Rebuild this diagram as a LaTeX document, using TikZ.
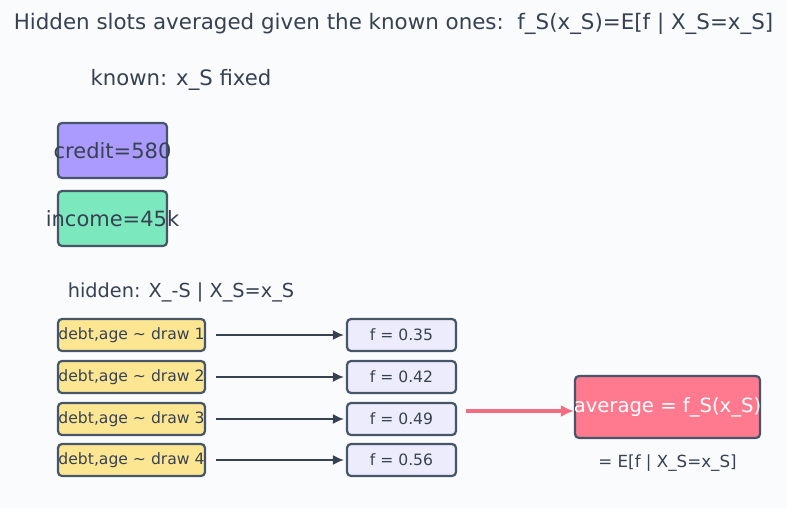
\documentclass[tikz,border=0pt]{standalone}
\usepackage{fontspec}
\setmainfont{DejaVu Sans}
\usetikzlibrary{arrows.meta,positioning}
\definecolor{pagebg}{RGB}{250,251,253}
\definecolor{inkgrey}{RGB}{55,65,81}
\definecolor{edgegrey}{RGB}{71,85,105}
\definecolor{knownpurple}{RGB}{171,155,254}
\definecolor{knowngreen}{RGB}{124,232,190}
\definecolor{drawyellow}{RGB}{253,230,146}
\definecolor{fvallav}{RGB}{236,236,252}
\definecolor{avgpink}{RGB}{255,122,143}
\definecolor{arrowpink}{RGB}{240,110,128}

\tikzset{
  box/.style={draw=edgegrey,line width=2.2pt,rounded corners=4pt,text=inkgrey,inner sep=0pt},
  drawbox/.style={box,fill=drawyellow,minimum width=147pt,minimum height=32pt,font=\fontsize{15.6}{18}\selectfont},
  fbox/.style={box,fill=fvallav,minimum width=109pt,minimum height=32pt,font=\fontsize{15.6}{18}\selectfont},
  flow/.style={-{Latex[length=11pt,width=10pt]},inkgrey,line width=1.6pt}
}
\newcommand{\spill}[1]{\makebox[0pt]{#1}}

\begin{document}
\begin{tikzpicture}[x=1pt,y=-1pt]
    % Frame
    \fill[pagebg] (0,0) rectangle (787,508);
    \useasboundingbox (0,0) rectangle (787,508);

    % Title
    \node[inkgrey,font=\fontsize{21.4}{24}\selectfont] (title) at (393.5,24)
      {Hidden slots averaged given the known ones:\ \ f\_S(x\_S)=E[f | X\_S=x\_S]};

    % Known slots
    \node[inkgrey,font=\fontsize{21.2}{24}\selectfont] (knownlbl) at (181,80) {known: x\_S fixed};
    \node[box,fill=knownpurple,minimum width=109pt,minimum height=55pt,
      font=\fontsize{21}{24}\selectfont] (credit) at (112.5,150.5) {\spill{credit=580}};
    \node[box,fill=knowngreen,minimum width=109pt,minimum height=55pt,
      font=\fontsize{21}{24}\selectfont] (income) at (112.5,218.5) {\spill{income=45k}};

    % Hidden slots
    \node[inkgrey,font=\fontsize{19.3}{22}\selectfont] (hiddenlbl) at (181,292) {hidden: X\_-S | X\_S=x\_S};

    \foreach \i/\yy/\fv in {1/335/0.35, 2/377/0.42, 3/419/0.49, 4/460/0.56}{
      \node[drawbox] (draw\i) at (131.5,\yy) {\spill{debt,age \textasciitilde{} draw \i}};
      \node[fbox] (fval\i) at (401.5,\yy) {f = \fv};
      \draw[flow] ([xshift=10pt]draw\i.east) -- ([xshift=-2pt]fval\i.west);
    }

    % Average
    \node[box,fill=avgpink,text=white,minimum width=185pt,minimum height=62pt,
      font=\fontsize{19.6}{22}\selectfont] (avg) at (667.5,407) {\spill{average = f\_S(x\_S)}};
    \node[inkgrey,font=\fontsize{16.7}{19}\selectfont,below=12pt of avg] (avgeq) {= E[f | X\_S=x\_S]};
    \coordinate (pinkstart) at ([xshift=9pt,yshift=8pt]fval3.east);
    \draw[-{Latex[length=13pt,width=12pt]},arrowpink,line width=3.2pt]
      (pinkstart) -- (pinkstart -| avg.west);
\end{tikzpicture}
\end{document}
